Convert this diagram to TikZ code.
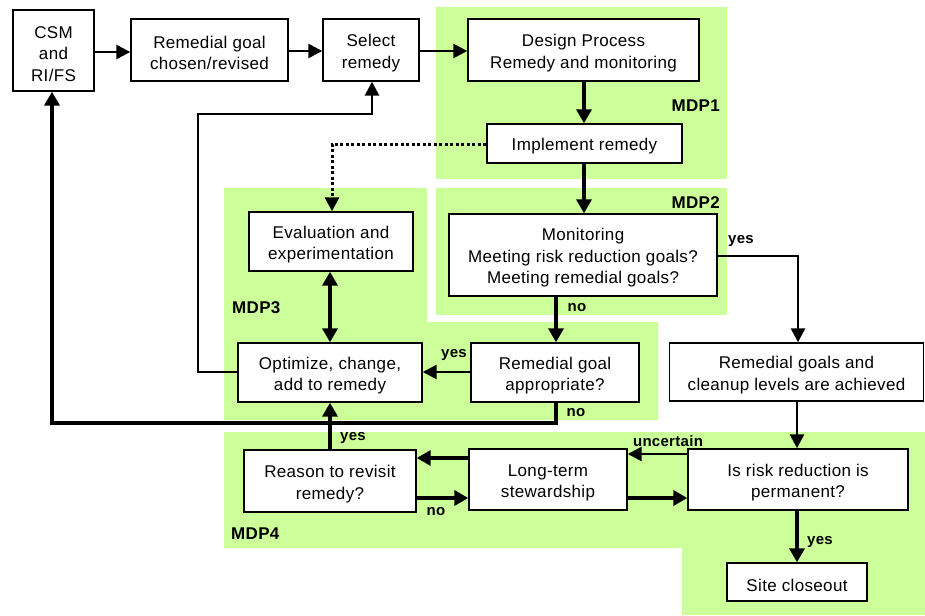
\documentclass[tikz,border=0pt]{standalone}
\usepackage{fontspec}
\setmainfont[LetterSpace=2]{Liberation Sans}
\usetikzlibrary{arrows.meta}
\definecolor{mdpgreen}{RGB}{204,255,153}
\newcommand{\bxs}{\rule{0pt}{18.5pt}}
\begin{document}
\begin{tikzpicture}[x=1pt,y=-1pt,
  box/.style={draw=black,line width=1.4pt,fill=white,inner sep=0pt,align=center,
    font=\fontsize{17}{21.5}\selectfont},
  lbl/.style={font=\bfseries\fontsize{15}{17}\selectfont,inner sep=0pt},
  mdp/.style={font=\bfseries\fontsize{17}{19}\selectfont,inner sep=0pt},
  conn/.style={line width=2.6pt,-{Triangle[length=14pt,width=14pt]}},
  thk/.style={line width=3.7pt,-{Triangle[length=14pt,width=15pt]}},
  zone/.style={fill=mdpgreen,draw=none}]
\useasboundingbox (0,0) rectangle (925,615);
% green zones
\path[zone] (436,7) rectangle (727,179);
\path[zone] (436,188) rectangle (727,315);
\path[zone] (224,188) -- (427,188) -- (427,322) -- (658,322) -- (658,420) -- (224,420) -- cycle;
\path[zone] (224,432) -- (925,432) -- (925,615) -- (682,615) -- (682,548) -- (224,548) -- cycle;
% zone labels
\node[mdp,anchor=east] (l1) at (720,106) {MDP1};
\node[mdp,anchor=east] (l2) at (720,203) {MDP2};
\node[mdp,anchor=west] (l3) at (232,308) {MDP3};
\node[mdp,anchor=west] (l4) at (231,534) {MDP4};
% boxes
\node[box,minimum width=81pt,minimum height=81pt] (csm) at (53.5,50.5) {\bxs CSM\\and\\RI/FS};
\node[box,minimum width=157pt,minimum height=62pt] (goal) at (209.5,50) {\bxs Remedial goal\\chosen/revised};
\node[box,minimum width=96pt,minimum height=62pt] (select) at (371,50) {\bxs Select\\remedy};
\node[box,minimum width=231pt,minimum height=62pt] (design) at (583.5,50) {\bxs Design Process\\Remedy and monitoring};
\node[box,minimum width=195pt,minimum height=39pt] (impl) at (584.5,143.5) {\bxs Implement remedy};
\node[box,minimum width=268pt,minimum height=82pt] (monitor) at (583,255) {\bxs Monitoring\\Meeting risk reduction goals?\\Meeting remedial goals?};
\node[box,minimum width=164pt,minimum height=59pt] (eval) at (331,241.5) {\bxs Evaluation and\\experimentation};
\node[box,minimum width=184pt,minimum height=59pt] (optim) at (330,372.5) {\bxs Optimize, change,\\add to remedy};
\node[box,minimum width=168pt,minimum height=59pt] (appr) at (555,372.5) {\bxs Remedial goal\\appropriate?};
\node[box,minimum width=254pt,minimum height=58pt] (clean) at (796.5,372) {\bxs Remedial goals and\\cleanup levels are achieved};
\node[box,minimum width=220pt,minimum height=61pt] (risk) at (798,479.5) {\bxs Is risk reduction is\\permanent?};
\node[box,minimum width=140pt,minimum height=38pt] (site) at (797,582) {\bxs Site closeout};
\node[box,minimum width=172pt,minimum height=62pt] (reason) at (330,481) {\bxs Reason to revisit\\remedy?};
\node[box,minimum width=158pt,minimum height=61pt] (lts) at (548,479.5) {\bxs Long-term\\stewardship};
% coordinates
\coordinate (c1) at (798,256);
\coordinate (c2) at (52,423);
\coordinate (c3) at (556,423);
\coordinate (c4) at (198,372);
\coordinate (c5) at (198,114);
\coordinate (c6) at (372,114);
\coordinate (c7) at (332,144);
% connectors
\draw[conn] (csm.east |- 0,52) -- (goal.west |- 0,52);
\draw[conn] (goal.east |- 0,51) -- (select.west |- 0,51);
\draw[conn] (select.east |- 0,51) -- (design.west |- 0,51);
\draw[thk] (design.south -| 584,0) -- (impl.north -| 584,0);
\draw[thk] (impl.south -| 584,0) -- (monitor.north -| 584,0);
\draw[thk] (monitor.south -| c3) -- (appr.north -| c3);
\draw[conn] (monitor.east |- c1) -- (c1) -- (clean.north -| c1);
\draw[conn] (clean.south -| 797,0) -- (risk.north -| 797,0);
\draw[thk] (risk.south -| 797,0) -- (site.north -| 797,0);
\draw[conn] (risk.west |- 0,454) -- (lts.east |- 0,454);
\draw[thk] (lts.east |- 0,498) -- (risk.west |- 0,498);
\draw[line width=3.1pt,-{Triangle[length=14pt,width=15pt]}] (lts.west |- 0,458) -- (reason.east |- 0,458);
\draw[thk] (reason.east |- 0,498) -- (lts.west |- 0,498);
\draw[thk] (reason.north -| 330,0) -- (optim.south -| 330,0);
\draw[conn] (appr.west |- 0,372) -- (optim.east |- 0,372);
\draw[line width=3.7pt,{Triangle[length=14pt,width=15pt]}-{Triangle[length=14pt,width=15pt]}] (eval.south -| 330,0) -- (optim.north -| 330,0);
\draw[line width=3pt,dash pattern=on 3pt off 2.5pt,-{Triangle[length=14pt,width=14pt]}] (impl.west |- c7) -- (c7) -- (eval.north -| c7);
\draw[conn] (optim.west |- c4) -- (c4) -- (c5) -- (c6) -- (select.south -| c6);
\draw[thk] (appr.south -| c3) -- (c3) -- (c2) -- (csm.south -| c2);
% connector labels
\node[lbl] (y1) at (741,241) {yes};
\node[lbl] (n1) at (577,308) {no};
\node[lbl] (y2) at (454,355) {yes};
\node[lbl] (n2) at (576,413) {no};
\node[lbl] (y3) at (353,438) {yes};
\node[lbl] (n3) at (436,512) {no};
\node[lbl] (u1) at (668,441) {uncertain};
\node[lbl] (y4) at (820,542) {yes};
\end{tikzpicture}
\end{document}
